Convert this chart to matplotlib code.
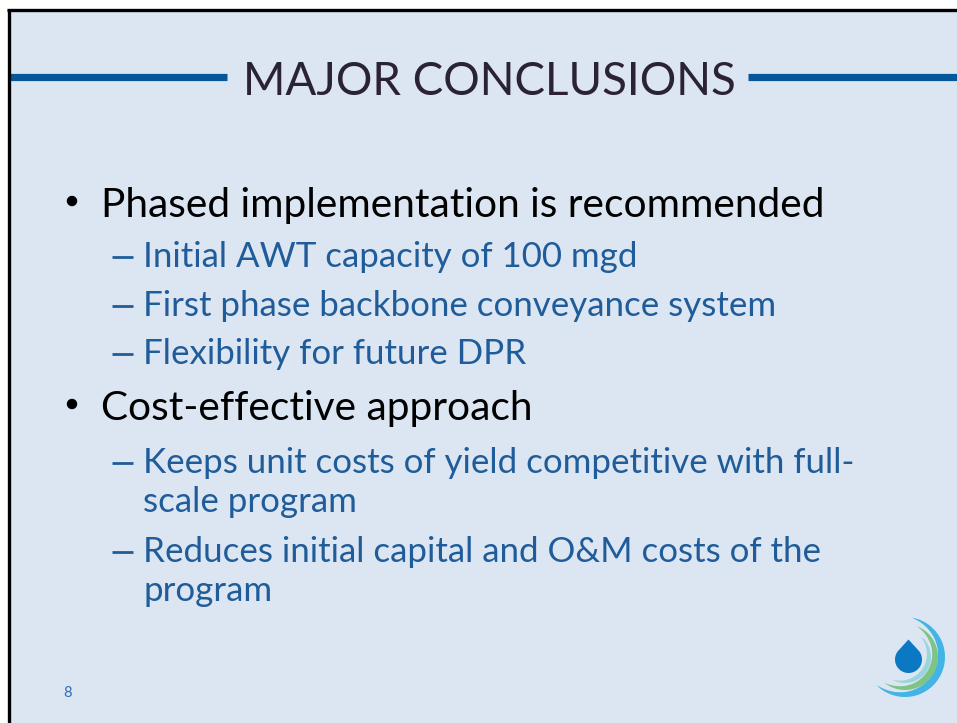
import numpy as np
import matplotlib
matplotlib.use("Agg")
import matplotlib.pyplot as plt
from matplotlib.patches import Polygon, Rectangle, Circle

# ---- slide content ----
title = "MAJOR CONCLUSIONS"
main_bullets = ["Phased implementation is recommended", "Cost-effective approach"]
sub_bullets = [
    ["Initial AWT capacity of 100 mgd",
     "First phase backbone conveyance system",
     "Flexibility for future DPR"],
    ["Keeps unit costs of yield competitive with full-\nscale program",
     "Reduces initial capital and O&M costs of the\nprogram"],
]
page_number = "8"

FONT = "Lato"
BG = "#dce6f2"
TITLE_COL = "#2b2333"
SUB_COL = "#1f5c99"
LINE_COL = "#05579a"

W, H = 957, 723
fig = plt.figure(figsize=(W / 100, H / 100), dpi=100)
fig.patch.set_facecolor("white")
ax = fig.add_axes([0, 0, 1, 1])
ax.set_xlim(0, W)
ax.set_ylim(H, 0)
ax.axis("off")

# slide background and border
ax.add_patch(Rectangle((8, 10), W, H, facecolor=BG, edgecolor="none", zorder=0))
ax.plot([8.5, 8.5], [9, H], color="black", lw=2.4, solid_capstyle="butt", zorder=5)
ax.plot([7, W], [10, 10], color="black", lw=2.4, solid_capstyle="butt", zorder=5)

fig.canvas.draw()
renderer = fig.canvas.get_renderer()


def fit_size(text, target_px, trial=30):
    t = ax.text(0, 0, text, fontsize=trial, family=FONT)
    w = t.get_window_extent(renderer).width
    t.remove()
    return trial * target_px / w


# title
ts = fit_size(title, 492)
ax.text(489, 95, title, fontsize=ts, family=FONT, color=TITLE_COL,
        ha="center", va="baseline")
ax.plot([9, 227], [77, 77], color=LINE_COL, lw=5.2, solid_capstyle="butt")
ax.plot([748, W], [77, 77], color=LINE_COL, lw=5.2, solid_capstyle="butt")

# bullets
ms = fit_size(main_bullets[0], 723)
ss = fit_size(sub_bullets[0][1], 632)

main_baselines = [217, 420]
sub_baselines = [[267, 316, 364], [473, 562]]
wrap_step = 39

for mb, mtxt, subs, sbs in zip(main_baselines, main_bullets, sub_bullets, sub_baselines):
    ax.add_patch(Circle((72, mb - 16), 5.2, facecolor="black", edgecolor="none"))
    ax.text(101, mb, mtxt, fontsize=ms, family=FONT, color="black", va="baseline")
    for sb, stxt in zip(sbs, subs):
        ax.plot([112, 133], [sb - 10, sb - 10], color=SUB_COL, lw=2.0,
                solid_capstyle="butt")
        for k, line in enumerate(stxt.split("\n")):
            ax.text(143, sb + k * wrap_step, line, fontsize=ss, family=FONT,
                    color=SUB_COL, va="baseline")

# page number
ax.text(68, 693, page_number, fontsize=10.5, family=FONT, color="#2f6db4",
        ha="center", va="center")

# logo: tapered arcs + drop
def crescent(cx, cy, R, t0, t1, wmax, color):
    t = np.radians(np.linspace(t0, t1, 120))
    s = np.sin(np.pi * (t - t[0]) / (t[-1] - t[0])) ** 0.8
    w = wmax * s
    outer = np.c_[cx + R * np.cos(t), cy - R * np.sin(t)]
    inner = np.c_[cx + (R - w) * np.cos(t), cy - (R - w) * np.sin(t)]
    pts = np.vstack([outer, inner[::-1]])
    ax.add_patch(Polygon(pts, closed=True, facecolor=color, edgecolor="none"))

crescent(905, 657, 40, -135, 80, 7.5, "#44b4e5")
crescent(905, 657, 33, -128, 68, 6.5, "#7dc486")
crescent(905, 657, 26, -118, 52, 5.0, "#98d5dc")

# drop
cx, cy, r, d = 908.5, 659.5, 13.5, 20
alpha = np.arccos(r / d)
ang = np.linspace(np.pi / 2 + alpha, np.pi / 2 - alpha + 2 * np.pi, 100)
pts = [(cx, cy - d)] + [(cx + r * np.cos(a), cy - r * np.sin(a)) for a in ang]
ax.add_patch(Polygon(pts, closed=True, facecolor="#0a78c2", edgecolor="none"))

fig.savefig("out.png", dpi=100, facecolor=fig.get_facecolor())
